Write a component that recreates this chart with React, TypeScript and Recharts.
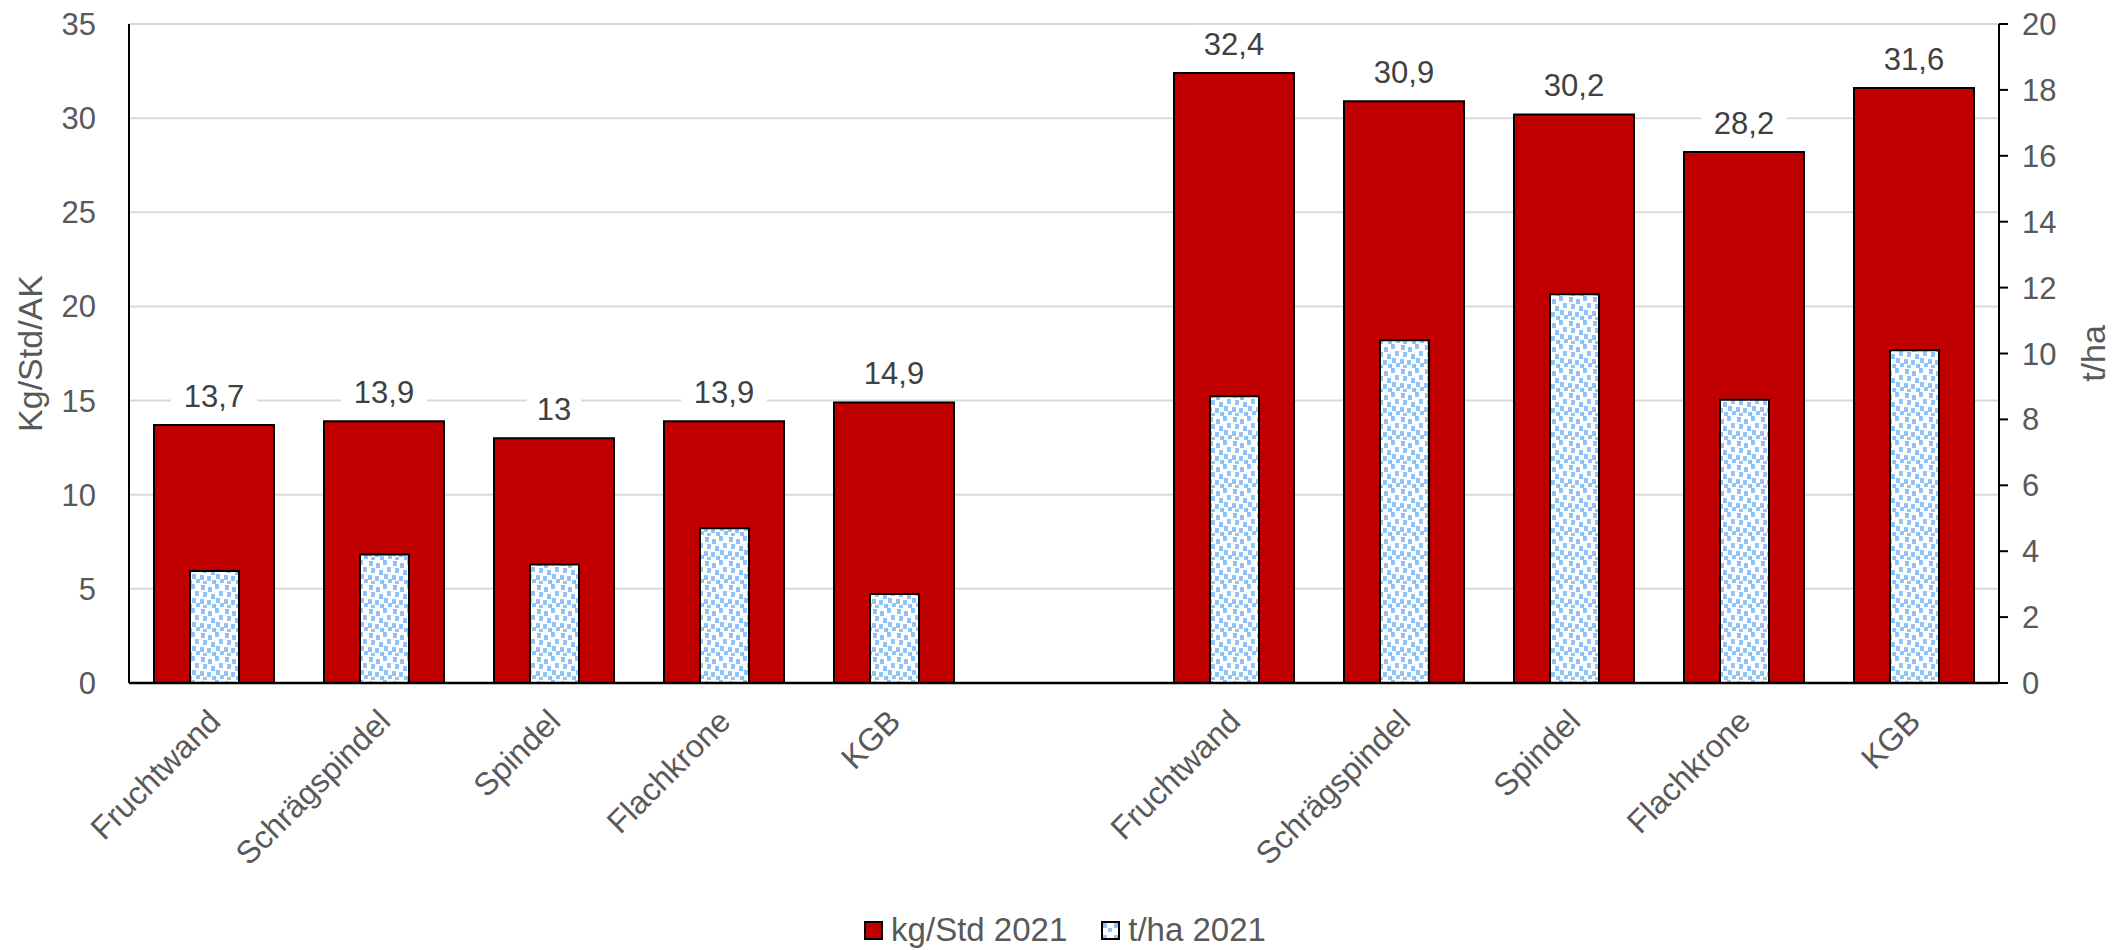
import React from 'react';
import { BarChart, Bar, XAxis, YAxis, CartesianGrid, LabelList, Legend } from 'recharts';

const categories = ['Fruchtwand', 'Schrägspindel', 'Spindel', 'Flachkrone', 'KGB', '', 'Fruchtwand', 'Schrägspindel', 'Spindel', 'Flachkrone', 'KGB'];
const kgStd2021 = [13.7, 13.9, 13, 13.9, 14.9, null, 32.4, 30.9, 30.2, 28.2, 31.6];
const tHa2021 = [3.4, 3.9, 3.6, 4.7, 2.7, null, 8.7, 10.4, 11.8, 8.6, 10.1];
const leftTicks = [0, 5, 10, 15, 20, 25, 30, 35];
const rightTicks = [0, 2, 4, 6, 8, 10, 12, 14, 16, 18, 20];
const seriesNames = ['kg/Std 2021', 't/ha 2021'];

const data = categories.map((name, i) => ({ idx: i, name, kg: kgStd2021[i], tha: tHa2021[i] }));

const FONT = '"Liberation Sans", Arial, sans-serif';
const RED = '#C00000';
const DOT = '#8fc4fa';

const fmt = (v: number) => String(v).replace('.', ',');

const XTick = (props: any) => {
  const { x, y, payload } = props;
  const label = categories[payload.value] ?? '';
  if (!label) return null;
  return (
    <g transform={`translate(${x - 8},${y + 22}) rotate(-45)`}>
      <text x={0} y={0} dy="0.72em" textAnchor="end" fill="#595959" fontSize={32} fontFamily={FONT}>
        {label}
      </text>
    </g>
  );
};

const ValueLabel = (props: any) => {
  const { x, y, width, value } = props;
  if (value == null) return null;
  const cx = x + width / 2;
  const txt = fmt(value);
  const w = txt.length * 16 + 22;
  const base = y - 18;
  return (
    <g>
      <rect x={cx - w / 2} y={base - 30} width={w} height={38} fill="#ffffff" />
      <text x={cx} y={base} textAnchor="middle" fill="#404040" fontSize={31} fontFamily={FONT}>
        {txt}
      </text>
    </g>
  );
};

const LegendContent = () => (
  <div style={{ display: 'flex', justifyContent: 'center', alignItems: 'center', height: 40, fontFamily: FONT, fontSize: 33, color: '#595959' }}>
    <div style={{ display: 'flex', alignItems: 'center', marginRight: 34 }}>
      <svg width={19} height={19} style={{ marginRight: 8 }}>
        <rect x={1} y={1} width={17} height={17} fill={RED} stroke="#000" strokeWidth={2} />
      </svg>
      <span>{seriesNames[0]}</span>
    </div>
    <div style={{ display: 'flex', alignItems: 'center' }}>
      <svg width={19} height={19} style={{ marginRight: 8 }}>
        <defs>
          <pattern id="legdots" width="12" height="12" patternUnits="userSpaceOnUse">
            <rect width="12" height="12" fill="#fff" />
            <rect x="1" y="2" width="5" height="5" fill={DOT} />
            <rect x="7" y="7" width="4" height="4" fill={DOT} />
          </pattern>
        </defs>
        <rect x={1} y={1} width={17} height={17} fill="url(#legdots)" stroke="#000" strokeWidth={2} />
      </svg>
      <span>{seriesNames[1]}</span>
    </div>
  </div>
);

export default function App() {
  return (
    <div style={{ width: 2114, height: 942, background: '#fff' }}>
      <BarChart width={2114} height={942} data={data} margin={{ top: 16, right: 33, left: 41, bottom: 0 }}>
        <defs>
          <pattern id="dots" width="24" height="24" patternUnits="userSpaceOnUse">
            <rect width="24" height="24" fill="#ffffff" />
            <rect x="1" y="1" width="4" height="5" fill={DOT} />
            <rect x="8" y="3" width="4" height="5" fill={DOT} />
            <rect x="15" y="0" width="4" height="5" fill={DOT} />
            <rect x="19" y="7" width="4" height="5" fill={DOT} />
            <rect x="3" y="8" width="4" height="5" fill={DOT} />
            <rect x="11" y="10" width="4" height="5" fill={DOT} />
            <rect x="0" y="15" width="4" height="5" fill={DOT} />
            <rect x="7" y="16" width="4" height="5" fill={DOT} />
            <rect x="16" y="14" width="4" height="5" fill={DOT} />
            <rect x="3" y="21" width="4" height="3" fill={DOT} />
            <rect x="12" y="20" width="4" height="4" fill={DOT} />
            <rect x="20" y="19" width="4" height="4" fill={DOT} />
          </pattern>
        </defs>
        <CartesianGrid xAxisId="main" yAxisId="left" vertical={false} stroke="#d9d9d9" strokeWidth={2} />
        <XAxis
          xAxisId="main"
          dataKey="idx"
          type="category"
          height={227}
          interval={0}
          tick={<XTick />}
          tickLine={false}
          tickSize={0}
          axisLine={{ stroke: '#000', strokeWidth: 2.5 }}
        />
        <XAxis xAxisId="over" dataKey="idx" type="category" hide />
        <YAxis
          yAxisId="left"
          orientation="left"
          width={80}
          domain={[0, 35]}
          ticks={leftTicks}
          interval={0}
          tickLine={false}
          tickSize={0}
          tickMargin={33}
          axisLine={{ stroke: '#000', strokeWidth: 2 }}
          tick={{ fill: '#595959', fontSize: 31, fontFamily: FONT }}
          label={({ viewBox }: any) => {
            const cx = 22;
            const cy = viewBox.y + viewBox.height / 2;
            return (
              <text x={cx} y={cy} transform={`rotate(-90, ${cx}, ${cy})`} textAnchor="middle" dominantBaseline="central" fill="#595959" fontSize={34} fontFamily={FONT}>
                Kg/Std/AK
              </text>
            );
          }}
        />
        <YAxis
          yAxisId="right"
          orientation="right"
          width={90}
          domain={[0, 20]}
          ticks={rightTicks}
          interval={0}
          tickSize={9}
          tickMargin={14}
          tickLine={{ stroke: '#000', strokeWidth: 2 }}
          axisLine={{ stroke: '#000', strokeWidth: 2 }}
          tick={{ fill: '#595959', fontSize: 31, fontFamily: FONT }}
          label={({ viewBox }: any) => {
            const cx = 2085;
            const cy = viewBox.y + viewBox.height / 2;
            return (
              <text x={cx} y={cy} transform={`rotate(-90, ${cx}, ${cy})`} textAnchor="middle" dominantBaseline="central" fill="#595959" fontSize={34} fontFamily={FONT}>
                t/ha
              </text>
            );
          }}
        />
        <Legend verticalAlign="bottom" align="center" content={<LegendContent />} wrapperStyle={{ left: 0, width: 2114 }} />
        <Bar xAxisId="main" yAxisId="left" dataKey="kg" name={seriesNames[0]} fill={RED} stroke="#000" strokeWidth={2} barSize={120} isAnimationActive={false}>
          <LabelList dataKey="kg" content={<ValueLabel />} />
        </Bar>
        <Bar xAxisId="over" yAxisId="right" dataKey="tha" name={seriesNames[1]} fill="url(#dots)" stroke="#000" strokeWidth={2} barSize={49} isAnimationActive={false} />
      </BarChart>
    </div>
  );
}
